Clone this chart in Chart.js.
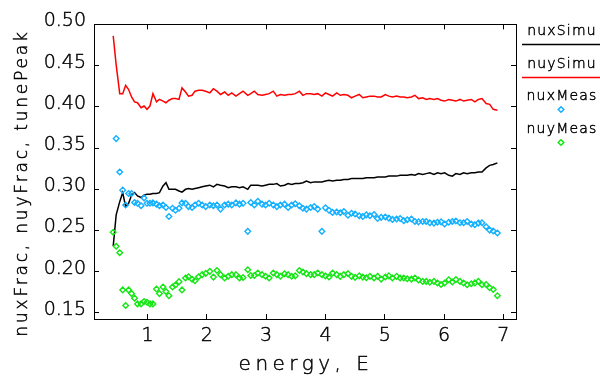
<!DOCTYPE html>
<html>
<head>
<meta charset="utf-8">
<script src="https://cdn.jsdelivr.net/npm/chart.js@4/dist/chart.umd.min.js"></script>
<style>
  html, body { margin: 0; padding: 0; background: #fff; }
  #wrap { width: 600px; height: 379px; }
</style>
</head>
<body>
<div id="wrap"><canvas id="tunes" width="600" height="379"></canvas></div>
<script>
// beam energy for every sample
const energy = [
  0.42, 0.47, 0.53, 0.58, 0.63, 0.68, 0.73, 0.78, 0.83, 0.89,
  0.94, 0.99, 1.04, 1.09, 1.15, 1.20, 1.26, 1.31, 1.36, 1.42,
  1.47, 1.53, 1.58, 1.64, 1.69, 1.75, 1.80, 1.86,
  1.92, 1.98, 2.05, 2.11, 2.17, 2.23, 2.30, 2.36, 2.42, 2.49,
  2.55, 2.61, 2.69, 2.74, 2.80, 2.86, 2.93, 2.99, 3.05, 3.12,
  3.18, 3.24, 3.31, 3.37, 3.43, 3.49, 3.56, 3.62, 3.68, 3.75,
  3.81, 3.87, 3.94, 4.00, 4.06, 4.12, 4.19, 4.25, 4.31, 4.38,
  4.44, 4.50, 4.57, 4.63, 4.69, 4.75, 4.82, 4.88, 4.94, 5.01,
  5.07, 5.13, 5.20, 5.26, 5.32, 5.38, 5.45, 5.51, 5.57, 5.64,
  5.70, 5.76, 5.83, 5.89, 5.95, 6.01, 6.08, 6.14, 6.20, 6.27,
  6.33, 6.39, 6.46, 6.52, 6.58, 6.64, 6.71, 6.77, 6.83, 6.90
];

const nuxSimu = [
  0.231, 0.269, 0.285, 0.296, 0.279, 0.283, 0.293, 0.296, 0.292, 0.290,
  0.293, 0.294, 0.294, 0.295, 0.295, 0.296, 0.304, 0.308, 0.300, 0.300,
  0.300, 0.298, 0.2965, 0.300, 0.301, 0.300, 0.301, 0.302,
  0.303, 0.304, 0.305, 0.303, 0.306, 0.305, 0.304, 0.302, 0.303, 0.303,
  0.302, 0.303, 0.300, 0.305, 0.305, 0.305, 0.304, 0.305, 0.306, 0.306,
  0.307, 0.304, 0.305, 0.307, 0.306, 0.307, 0.307, 0.308, 0.310, 0.308,
  0.309, 0.309, 0.309, 0.310, 0.311, 0.310, 0.311, 0.311, 0.312, 0.312,
  0.313, 0.313, 0.313, 0.313, 0.314, 0.314, 0.314, 0.315, 0.315, 0.315,
  0.316, 0.316, 0.316, 0.317, 0.317, 0.317, 0.318, 0.317, 0.319, 0.318,
  0.319, 0.320, 0.318, 0.320, 0.319, 0.320, 0.317, 0.316, 0.319, 0.318,
  0.320, 0.319, 0.320, 0.320, 0.321, 0.321, 0.326, 0.329, 0.330, 0.332
];

const nuySimu = [
  0.486, 0.451, 0.416, 0.416, 0.426, 0.421, 0.412, 0.406, 0.405, 0.399,
  0.401, 0.397, 0.401, 0.416, 0.406, 0.409, 0.407, 0.405, 0.408, 0.410,
  0.410, 0.409, 0.423, 0.418, 0.413, 0.414, 0.419, 0.420,
  0.420, 0.419, 0.417, 0.422, 0.419, 0.415, 0.418, 0.414, 0.417, 0.413,
  0.416, 0.419, 0.414, 0.416, 0.419, 0.415, 0.414, 0.415, 0.416, 0.419,
  0.413, 0.415, 0.414, 0.415, 0.415, 0.416, 0.419, 0.414, 0.416, 0.416,
  0.415, 0.416, 0.413, 0.417, 0.415, 0.413, 0.417, 0.414, 0.415, 0.414,
  0.411, 0.413, 0.415, 0.411, 0.412, 0.413, 0.413, 0.412, 0.412, 0.415,
  0.413, 0.412, 0.413, 0.412, 0.412, 0.411, 0.412, 0.414, 0.410, 0.411,
  0.409, 0.410, 0.409, 0.410, 0.408, 0.407, 0.409, 0.408, 0.407, 0.409,
  0.407, 0.408, 0.409, 0.406, 0.409, 0.410, 0.404, 0.403, 0.397, 0.396
];

const nuxMeas = [
  null, 0.3615, 0.321, 0.299, 0.281, 0.295, 0.295, 0.284, 0.283, 0.280,
  0.2895, 0.283, 0.283, 0.2835, 0.282, 0.280, 0.281, 0.278, 0.267, 0.277,
  0.2745, 0.277, 0.2835, 0.283, 0.279, 0.278, 0.281, 0.283,
  0.281, 0.279, 0.281, 0.280, 0.281, 0.276, 0.281, 0.282, 0.281, 0.2835,
  0.282, 0.283, 0.249, 0.284, 0.281, 0.2855, 0.282, 0.281, 0.283, 0.281,
  0.279, 0.281, 0.282, 0.278, 0.281, 0.2825, 0.280, 0.277, 0.276, 0.278,
  0.279, 0.276, 0.249, 0.2775, 0.2745, 0.272, 0.2725, 0.2715, 0.273, 0.2685,
  0.271, 0.270, 0.268, 0.267, 0.269, 0.268, 0.2695, 0.2645, 0.266, 0.2665,
  0.265, 0.2635, 0.264, 0.2645, 0.262, 0.263, 0.264, 0.261, 0.2605, 0.261,
  0.261, 0.2595, 0.259, 0.260, 0.2605, 0.258, 0.260, 0.261, 0.2615, 0.2595,
  0.2595, 0.261, 0.258, 0.257, 0.259, 0.2595, 0.2545, 0.2505, 0.2495, 0.247
];

const nuyMeas = [
  0.248, 0.231, 0.223, 0.178, 0.159, 0.178, 0.1735, 0.168, 0.161, 0.161,
  0.164, 0.163, 0.161, 0.161, 0.179, 0.1735, 0.1815, 0.176, 0.171, 0.1815,
  0.184, 0.188, 0.178, 0.1925, 0.194, 0.191, 0.189, 0.194,
  0.1965, 0.198, 0.2005, 0.1935, 0.2015, 0.1965, 0.1925, 0.1945, 0.1965, 0.1965,
  0.1925, 0.193, 0.2025, 0.1955, 0.1955, 0.1985, 0.1965, 0.1945, 0.1925, 0.1985,
  0.1965, 0.1945, 0.1975, 0.1965, 0.1945, 0.195, 0.2015, 0.1997, 0.1977, 0.1965,
  0.1965, 0.1985, 0.1965, 0.195, 0.1937, 0.1985, 0.1965, 0.1944, 0.1965, 0.1977,
  0.1944, 0.1932, 0.195, 0.1935, 0.1928, 0.1944, 0.1924, 0.1944, 0.1911, 0.1937,
  0.195, 0.1924, 0.1944, 0.1925, 0.1924, 0.1916, 0.1911, 0.1924, 0.190, 0.1883,
  0.1883, 0.1873, 0.1883, 0.1863, 0.1845, 0.1863, 0.1904, 0.1875, 0.1905, 0.1883,
  0.1863, 0.1843, 0.1855, 0.1865, 0.1883, 0.1843, 0.1845, 0.1805, 0.1785, 0.171
];

const xTicks = [1, 2, 3, 4, 5, 6, 7];
const yTicks = [0.15, 0.20, 0.25, 0.30, 0.35, 0.40, 0.45, 0.50];

const seriesNames = ["nuxSimu", "nuySimu", "nuxMeas", "nuyMeas"];
const seriesColors = ["#000000", "#ff0000", "#12b0ff", "#14e614"];

const FONT = "'DejaVu Sans', sans-serif";
const STROKE = 0.45; // thin outline so the light face reads darker

function points(values) {
  return energy
    .map((e, i) => ({ x: e, y: values[i] }))
    .filter((p) => p.y !== null);
}

// fixed tick positions, ticks point into the plot on all four sides
function axisOpts(pos, ticks, extra) {
  return Object.assign({
    type: "linear",
    position: pos,
    afterBuildTicks: (s) => { s.ticks = ticks.map((v) => ({ value: v })); },
    border: { display: true, color: "#000", width: 1 },
    grid: {
      drawOnChartArea: false,
      drawTicks: true,
      tickLength: -5,
      color: "#000",
      lineWidth: 1,
    },
  }, extra);
}

function label(ctx, text, x, y) {
  ctx.fillText(text, x, y);
  ctx.strokeText(text, x, y);
}

// axis titles and the stacked legend at the right
const annotate = {
  id: "annotate",
  afterDraw(chart) {
    const ctx = chart.ctx;
    ctx.save();
    ctx.fillStyle = "#000";
    ctx.strokeStyle = "#000";
    ctx.lineWidth = STROKE;

    ctx.font = "200 20px " + FONT;
    ctx.letterSpacing = "4.5px";
    ctx.textAlign = "center";
    ctx.textBaseline = "alphabetic";
    label(ctx, "energy, E", 306, 370);

    ctx.save();
    ctx.font = "200 17px " + FONT;
    ctx.letterSpacing = "2.8px";
    ctx.translate(27, 183);
    ctx.rotate(-Math.PI / 2);
    label(ctx, "nuxFrac, nuyFrac, tunePeak", 0, 0);
    ctx.restore();

    ctx.font = "200 14px " + FONT;
    ctx.letterSpacing = "1.2px";
    const baselines = [35, 68, 100, 133];
    seriesNames.forEach((name, i) => label(ctx, name, 562, baselines[i]));

    ctx.lineWidth = 1.5;
    [[0, 44.5], [1, 77.5]].forEach(([i, y]) => {
      ctx.strokeStyle = seriesColors[i];
      ctx.beginPath();
      ctx.moveTo(522, y);
      ctx.lineTo(600, y);
      ctx.stroke();
    });
    [[2, 109.5], [3, 142.5]].forEach(([i, y]) => {
      ctx.strokeStyle = seriesColors[i];
      ctx.beginPath();
      ctx.moveTo(561, y - 2.8);
      ctx.lineTo(563.8, y);
      ctx.lineTo(561, y + 2.8);
      ctx.lineTo(558.2, y);
      ctx.closePath();
      ctx.stroke();
    });
    ctx.restore();
  },
};

const canvas = document.getElementById("tunes");

new Chart(canvas, {
  type: "scatter",
  data: {
    datasets: [
      {
        label: seriesNames[2],
        data: points(nuxMeas),
        showLine: false,
        pointStyle: "rectRot",
        pointRadius: 2.8,
        pointBorderWidth: 1.4,
        borderColor: seriesColors[2],
        backgroundColor: "rgba(0,0,0,0)",
        order: 0,
      },
      {
        label: seriesNames[3],
        data: points(nuyMeas),
        showLine: false,
        pointStyle: "rectRot",
        pointRadius: 2.8,
        pointBorderWidth: 1.4,
        borderColor: seriesColors[3],
        backgroundColor: "rgba(0,0,0,0)",
        order: 0,
      },
      {
        label: seriesNames[0],
        data: points(nuxSimu),
        showLine: true,
        pointRadius: 0,
        borderWidth: 1.5,
        borderColor: seriesColors[0],
        order: 1,
      },
      {
        label: seriesNames[1],
        data: points(nuySimu),
        showLine: true,
        pointRadius: 0,
        borderWidth: 1.5,
        borderColor: seriesColors[1],
        order: 1,
      },
    ],
  },
  options: {
    responsive: false,
    animation: false,
    layout: { padding: { top: 24, right: 84, bottom: 0, left: 0 } },
    scales: {
      x: axisOpts("bottom", xTicks, {
        min: 0.096,
        max: 7.214,
        afterFit: (s) => { s.height = 60; },
        ticks: {
          color: "#000",
          font: { family: FONT, size: 19, weight: "200" },
          textStrokeColor: "#000",
          textStrokeWidth: STROKE,
          padding: 11,
          maxRotation: 0,
          callback: (v) => String(v),
        },
      }),
      x2: axisOpts("top", xTicks, {
        min: 0.096,
        max: 7.214,
        afterFit: (s) => { s.height = 0; },
        ticks: { display: false },
      }),
      y: axisOpts("left", yTicks, {
        min: 0.1427,
        max: 0.5,
        afterFit: (s) => { s.width = 94; },
        ticks: {
          color: "#000",
          font: { family: FONT, size: 19, weight: "200" },
          textStrokeColor: "#000",
          textStrokeWidth: STROKE,
          padding: 13,
          labelOffset: -3,
          callback: (v) => v.toFixed(2),
        },
      }),
      y2: axisOpts("right", yTicks, {
        min: 0.1427,
        max: 0.5,
        afterFit: (s) => { s.width = 0; },
        ticks: { display: false },
      }),
    },
    plugins: {
      legend: { display: false },
      tooltip: { enabled: false },
    },
  },
  plugins: [annotate],
});
</script>
</body>
</html>
